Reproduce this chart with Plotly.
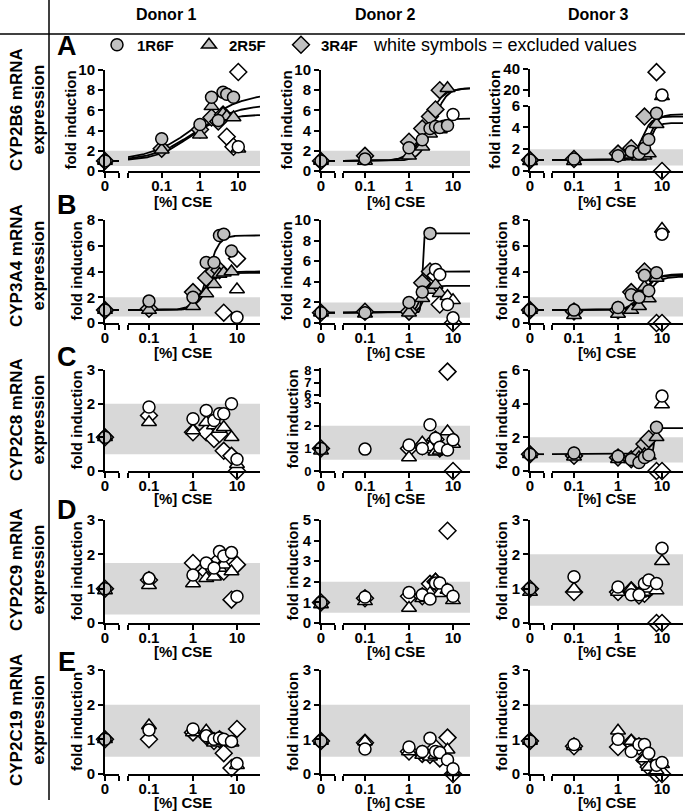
import numpy as np
import plotly.graph_objects as go

# ---------------- data ----------------
DOSES = [0, 0.1, 1, 2, 3, 4, 5, 7.5, 10]
STRAINS = ["1R6F", "2R5F", "3R4F"]
DONORS = ["Donor 1", "Donor 2", "Donor 3"]
GENES = ["CYP2B6", "CYP3A4", "CYP2C8", "CYP2C9", "CYP2C19"]
LETTERS = ["A", "B", "C", "D", "E"]
X_TICKS = [0.1, 1, 10]
X_TICK_TEXT = ["0.1", "1", "10"]
N = None

# Row A: CYP2B6
A1_1R6F = [1.0, 3.2, 4.6, 7.3, 5.0, 7.8, 7.6, 7.3, N]
A1_2R5F = [1.0, 2.1, 3.6, 6.4, N, 5.7, 5.4, 5.3, N]
A1_3R4F = [1.0, 2.2, 4.1, 5.3, 4.9, 5.6, N, N, N]
A1_1R6F_EX = [N, N, N, N, N, N, N, N, 2.4]
A1_2R5F_EX = [N, N, N, N, N, N, N, N, 2.2]
A1_3R4F_EX = [N, N, N, N, N, N, 3.4, 2.4, 9.8]

A2_1R6F = [1.0, 1.2, 2.3, 3.1, 4.2, 4.4, 4.3, 4.5, N]
A2_2R5F = [1.0, 1.0, 1.5, 2.4, 3.7, 4.3, 4.1, 8.2, N]
A2_3R4F = [1.0, 1.5, 2.9, 4.2, 5.4, 6.1, 8.0, N, N]
A2_1R6F_EX = [N, N, N, N, N, N, N, N, 5.6]
A2_2R5F_EX = [N] * 9
A2_3R4F_EX = [N] * 9

A3_1R6F = [1.0, 1.1, 1.4, 1.8, 1.6, 2.1, 2.9, 5.3, N]
A3_2R5F = [0.9, 0.9, 1.3, 1.5, 1.3, 1.4, 1.6, 4.3, N]
A3_3R4F = [1.0, 1.1, 1.6, 2.1, N, 5.0, N, N, N]
A3_1R6F_EX = [N, N, N, N, N, N, N, N, 15.0]
A3_2R5F_EX = [N, N, N, N, N, N, N, N, 13.8]
A3_3R4F_EX = [N, N, N, N, N, N, N, 37.0, 0.0]

# Row B: CYP3A4
B1_1R6F = [1.0, 1.7, 2.0, 4.7, 4.7, 6.8, 6.9, 5.6, N]
B1_2R5F = [1.0, 1.0, 1.3, 2.3, 3.0, 3.8, 3.9, 4.0, N]
B1_3R4F = [1.0, 1.1, 2.4, 3.5, 4.0, 4.1, N, N, N]
B1_1R6F_EX = [N, N, N, N, N, N, N, N, 0.45]
B1_2R5F_EX = [N, N, N, N, N, N, N, N, 2.6]
B1_3R4F_EX = [N, N, N, N, N, N, 0.8, N, 5.0]

B2_1R6F = [1.0, 1.0, 2.0, 3.0, 8.7, N, N, N, N]
B2_2R5F = [1.0, 0.9, 1.0, 2.4, 3.2, 3.7, 2.9, N, N]
B2_3R4F = [1.0, 1.1, 1.1, 3.9, 5.0, N, N, N, N]
B2_1R6F_EX = [N, N, N, N, N, 5.2, 4.7, 1.8, 0.5]
B2_2R5F_EX = [N, N, N, N, N, N, N, 2.6, 2.2]
B2_3R4F_EX = [N, N, N, N, N, 4.6, 1.8, N, 0.0]

B3_1R6F = [1.0, 1.0, 1.2, 2.2, 2.0, 3.7, 2.5, 3.9, N]
B3_2R5F = [1.0, 0.6, 0.7, 1.0, 1.3, 2.8, 1.9, 3.5, N]
B3_3R4F = [1.0, 0.9, 1.0, 2.4, 2.0, 4.0, N, N, N]
B3_1R6F_EX = [N, N, N, N, N, N, N, N, 6.9]
B3_2R5F_EX = [N, N, N, N, N, N, N, N, 7.3]
B3_3R4F_EX = [N, N, N, N, N, N, N, 0.0, 0.0]

# Row C: CYP2C8
C1_1R6F = [1.0, 1.9, 1.55, 1.8, 1.5, 1.7, 1.7, 2.0, N]
C1_2R5F = [1.0, 1.45, 1.2, 1.45, 1.35, 1.25, 1.3, 1.0, N]
C1_3R4F = [1.0, 1.65, 1.15, 1.15, 0.95, 1.1, 0.6, 0.45, N]
C1_1R6F_EX = [N, N, N, N, N, N, N, N, 0.35]
C1_2R5F_EX = [N, N, N, N, N, N, N, N, 0.2]
C1_3R4F_EX = [N, N, N, N, N, N, N, N, 0.0]

C2_1R6F = [1.0, 0.97, 1.15, 1.0, 2.05, 1.45, 1.05, 0.93, N]
C2_2R5F = [0.9, N, 0.6, 1.25, 1.05, 0.85, 0.9, 1.75, N]
C2_3R4F = [1.0, N, 1.0, 1.1, 1.1, 1.4, 1.0, N, N]
C2_1R6F_EX = [N, N, N, N, N, N, N, N, 1.38]
C2_2R5F_EX = [N, N, N, N, N, N, N, N, 1.2]
C2_3R4F_EX = [N, N, N, N, N, N, N, 7.9, 0.0]

C3_1R6F = [1.0, 1.07, 0.88, 0.68, 0.5, 0.8, 0.95, 2.6, N]
C3_2R5F = [1.0, 0.85, 0.7, 0.7, 0.8, 1.0, 0.9, 2.0, N]
C3_3R4F = [1.0, 0.9, 0.8, 0.7, 1.0, 1.6, 1.9, N, N]
C3_1R6F_EX = [N, N, N, N, N, N, N, N, 4.45]
C3_2R5F_EX = [N, N, N, N, N, N, N, N, 3.95]
C3_3R4F_EX = [N, N, N, N, N, N, N, 0.0, 0.0]

# Row D: CYP2C9
D1_1R6F = [1.0, 1.3, 1.4, 1.75, 1.6, 2.08, 1.95, 2.05, N]
D1_2R5F = [0.95, 1.1, 1.15, 1.3, 1.35, 1.6, 1.7, 1.5, N]
D1_3R4F = [1.0, 1.25, 1.75, 1.5, 1.55, 1.85, 1.5, N, N]
D1_1R6F_EX = [N, N, N, N, N, N, N, N, 0.77]
D1_2R5F_EX = [N] * 9
D1_3R4F_EX = [N, N, N, N, N, N, N, 0.68, 1.7]

D2_1R6F = [1.0, 1.26, 1.48, 1.37, 1.16, 1.94, 1.94, 1.6, N]
D2_2R5F = [0.9, 1.05, 0.73, 1.2, 1.45, 2.1, 1.45, 1.6, 1.1]
D2_3R4F = [1.0, 1.2, 1.3, 1.3, 1.9, 2.0, 1.8, N, N]
D2_1R6F_EX = [N, N, N, N, N, N, N, N, 1.3]
D2_2R5F_EX = [N] * 9
D2_3R4F_EX = [N, N, N, N, N, N, N, 4.48, N]

D3_1R6F = [1.0, 1.35, 1.05, 0.82, 0.82, 1.15, 1.25, 1.15, N]
D3_2R5F = [0.9, 1.0, 0.9, 1.0, 0.85, 0.9, 1.0, 0.95, N]
D3_3R4F = [1.0, 0.9, 0.9, 0.95, 0.8, 0.85, 1.0, N, N]
D3_1R6F_EX = [N, N, N, N, N, N, N, N, 2.18]
D3_2R5F_EX = [N, N, N, N, N, N, N, N, 1.8]
D3_3R4F_EX = [N, N, N, N, N, N, N, 0.0, 0.0]

# Row E: CYP2C19
E1_1R6F = [1.0, 1.27, 1.3, 1.1, 1.0, 1.04, 1.0, 0.94, N]
E1_2R5F = [1.0, 1.4, 1.2, 1.25, 0.9, 1.0, 0.95, 0.9, N]
E1_3R4F = [1.0, 1.0, 1.2, 1.1, 0.95, 1.0, 0.6, N, N]
E1_1R6F_EX = [N, N, N, N, N, N, N, N, 0.3]
E1_2R5F_EX = [N, N, N, N, N, N, N, N, 0.25]
E1_3R4F_EX = [N, N, N, N, N, N, N, 0.17, 1.3]

E2_1R6F = [0.95, 0.72, 0.78, 0.65, 1.03, 0.65, 0.62, 0.41, N]
E2_2R5F = [0.95, 0.94, 0.65, 0.55, 0.5, 0.55, 0.6, 0.7, N]
E2_3R4F = [0.95, 0.9, 0.65, 0.58, 0.55, 0.75, 0.45, N, N]
E2_1R6F_EX = [N, N, N, N, N, N, N, N, 0.15]
E2_2R5F_EX = [N, N, N, N, N, N, N, N, 0.05]
E2_3R4F_EX = [N, N, N, N, N, N, N, 1.05, 0.0]

E3_1R6F = [0.95, 0.85, 1.0, 0.65, 0.85, 0.85, 0.6, 0.25, N]
E3_2R5F = [0.95, 0.8, 1.25, 0.95, 0.8, 0.45, 0.2, 0.1, N]
E3_3R4F = [0.95, 0.8, 0.78, 0.9, 0.8, 0.4, 0.2, N, N]
E3_1R6F_EX = [N, N, N, N, N, N, N, N, 0.33]
E3_2R5F_EX = [N, N, N, N, N, N, N, N, 0.28]
E3_3R4F_EX = [N, N, N, N, N, N, N, 0.0, 0.0]

# fitted curves: (bottom, top, EC50 [% CSE], Hill slope) per strain
A1_FITS = [(1, 7.8, 0.8, 0.7), (1, 6.6, 0.7, 0.8), (1, 5.6, 0.5, 1.0)]
A2_FITS = [(1, 5.2, 1.8, 2.5), (1, 8.2, 3.5, 3.0), (1, 8.2, 2.5, 2.5)]
A3_FITS = [(1, 5.2, 5.0, 4.0), (1, 4.4, 5.0, 5.0), (1, 5.0, 3.5, 4.0)]
B1_FITS = [(1, 6.8, 2.2, 3.5), (1, 4.0, 2.0, 3.0), (1, 3.9, 1.6, 3.0)]
B2_FITS = [(1, 8.7, 2.0, 25.0), (1, 3.6, 2.2, 6.0), (1, 5.0, 2.0, 6.0)]
B3_FITS = [(1, 3.8, 4.0, 3.0), (1, 3.6, 4.5, 3.0), (1, 3.7, 3.5, 3.0)]
C3_FITS = [(1, 2.55, 6.6, 30.0)]

# "normal range" band
BAND_STD = [0.5, 2.0]
D1_BAND = [0.25, 1.75]

# y axes: lower segment (range, ticks) and optional upper segment
Y_10 = dict(lo=[0, 10], lo_ticks=[0, 2, 4, 6, 8, 10])
Y_8 = dict(lo=[0, 8], lo_ticks=[0, 2, 4, 6, 8])
Y_6 = dict(lo=[0, 6], lo_ticks=[0, 2, 4, 6])
Y_5 = dict(lo=[0, 5], lo_ticks=[0, 1, 2, 3, 4, 5])
Y_3 = dict(lo=[0, 3], lo_ticks=[0, 1, 2, 3])
A3_Y = dict(lo=[0, 6], lo_ticks=[0, 2, 4, 6], up=[13.2, 40], up_ticks=[20, 40])
C2_Y = dict(lo=[0, 3], lo_ticks=[0, 1, 2, 3], up=[5.8, 8.2], up_ticks=[6, 7, 8], tick_size=13)

# ---------------- layout geometry (px) ----------------
W, H = 685, 811
FONT = "Liberation Sans, Arial, sans-serif"
GRAY = "#c0c0c0"
BAND_COLOR = "#d8d8d8"
COLS = [(105, 119, 128, 260), (321, 335, 343, 470), (530, 544, 552, 683)]
ROWS = [(70, 171), (220, 323), (370, 471), (520, 623), (670, 774)]
TITLE_OFFSET = [30, 29, 28, 28, 28]
LOG_RANGE = [(-1.477, 1.523), (-1.5, 1.386), (-1.5, 1.477)]
A1_LOG_RANGE = (-1.88, 1.567)
SPLIT = {(0, 2): (105.7, 69.0, 97.0), (2, 1): (403.3, 368.0, 397.0)}  # lower top, upper top, upper bottom

def px(x):
    return x / W

def py(y):
    return 1 - y / H

# panels without a fit show their non-baseline points as open symbols
PANELS = [
    [dict(v=[A1_1R6F, A1_2R5F, A1_3R4F], ex=[A1_1R6F_EX, A1_2R5F_EX, A1_3R4F_EX], fits=A1_FITS, y=Y_10, band=BAND_STD),
     dict(v=[A2_1R6F, A2_2R5F, A2_3R4F], ex=[A2_1R6F_EX, A2_2R5F_EX, A2_3R4F_EX], fits=A2_FITS, y=Y_10, band=BAND_STD),
     dict(v=[A3_1R6F, A3_2R5F, A3_3R4F], ex=[A3_1R6F_EX, A3_2R5F_EX, A3_3R4F_EX], fits=A3_FITS, y=A3_Y, band=BAND_STD)],
    [dict(v=[B1_1R6F, B1_2R5F, B1_3R4F], ex=[B1_1R6F_EX, B1_2R5F_EX, B1_3R4F_EX], fits=B1_FITS, y=Y_8, band=BAND_STD),
     dict(v=[B2_1R6F, B2_2R5F, B2_3R4F], ex=[B2_1R6F_EX, B2_2R5F_EX, B2_3R4F_EX], fits=B2_FITS, y=Y_10, band=BAND_STD),
     dict(v=[B3_1R6F, B3_2R5F, B3_3R4F], ex=[B3_1R6F_EX, B3_2R5F_EX, B3_3R4F_EX], fits=B3_FITS, y=Y_8, band=BAND_STD)],
    [dict(v=[C1_1R6F, C1_2R5F, C1_3R4F], ex=[C1_1R6F_EX, C1_2R5F_EX, C1_3R4F_EX], fits=[], y=Y_3, band=BAND_STD),
     dict(v=[C2_1R6F, C2_2R5F, C2_3R4F], ex=[C2_1R6F_EX, C2_2R5F_EX, C2_3R4F_EX], fits=[], y=C2_Y, band=BAND_STD),
     dict(v=[C3_1R6F, C3_2R5F, C3_3R4F], ex=[C3_1R6F_EX, C3_2R5F_EX, C3_3R4F_EX], fits=C3_FITS, y=Y_6, band=BAND_STD)],
    [dict(v=[D1_1R6F, D1_2R5F, D1_3R4F], ex=[D1_1R6F_EX, D1_2R5F_EX, D1_3R4F_EX], fits=[], y=Y_3, band=D1_BAND),
     dict(v=[D2_1R6F, D2_2R5F, D2_3R4F], ex=[D2_1R6F_EX, D2_2R5F_EX, D2_3R4F_EX], fits=[], y=Y_5, band=BAND_STD),
     dict(v=[D3_1R6F, D3_2R5F, D3_3R4F], ex=[D3_1R6F_EX, D3_2R5F_EX, D3_3R4F_EX], fits=[], y=Y_3, band=BAND_STD)],
    [dict(v=[E1_1R6F, E1_2R5F, E1_3R4F], ex=[E1_1R6F_EX, E1_2R5F_EX, E1_3R4F_EX], fits=[], y=Y_3, band=BAND_STD),
     dict(v=[E2_1R6F, E2_2R5F, E2_3R4F], ex=[E2_1R6F_EX, E2_2R5F_EX, E2_3R4F_EX], fits=[], y=Y_3, band=BAND_STD),
     dict(v=[E3_1R6F, E3_2R5F, E3_3R4F], ex=[E3_1R6F_EX, E3_2R5F_EX, E3_3R4F_EX], fits=[], y=Y_3, band=BAND_STD)],
]

SYMBOL = {"1R6F": "circle", "2R5F": "triangle-up", "3R4F": "diamond"}
MSIZE = {"1R6F": 12, "2R5F": 13, "3R4F": 13}
DRAW_ORDER = [2, 1, 0]  # diamonds, triangles, then circles on top

def axis_common(tick_size=15):
    return dict(showline=True, linewidth=2, linecolor="black", ticks="outside",
                ticklen=5, tickwidth=2, tickcolor="black", showgrid=False,
                zeroline=False, fixedrange=True, automargin=False,
                tickfont=dict(family=FONT, size=tick_size, color="black", weight="bold"))

def nm(prefix, i):
    return prefix if i == 1 else f"{prefix}{i}"

def text_ann(text, x, y, size, bold=True, angle=0, xanchor="center"):
    f = dict(family=FONT, size=size, color="black")
    if bold:
        f["weight"] = "bold"
    return dict(text=text, x=px(x), y=py(y), xref="paper", yref="paper", showarrow=False,
                xanchor=xanchor, yanchor="middle", textangle=angle, font=f)

fig = go.Figure()
layout = {}
shapes = []
annotations = []
nx = 0
ny = 0
legend_done = set()

for r in range(5):
    top, bot = ROWS[r]
    for c in range(3):
        P = PANELS[r][c]
        yx, zend, lstart, lend = COLS[c]
        lrange = A1_LOG_RANGE if (r, c) == (0, 0) else LOG_RANGE[c]
        split = SPLIT.get((r, c))
        ytick_size = P["y"].get("tick_size", 15)
        xz = nx + 1
        xl = nx + 2
        nx += 2
        ylo = ny + 1
        ny += 1
        yup = None
        if split:
            yup = ny + 1
            ny += 1
        lo_top = split[0] if split else top
        ya = axis_common(ytick_size)
        ya.update(domain=[py(bot), py(lo_top)], range=P["y"]["lo"], tickvals=P["y"]["lo_ticks"],
                  anchor=nm("x", xz))
        layout[nm("yaxis", ylo)] = ya
        if yup:
            yu = axis_common(ytick_size)
            yu.update(domain=[py(split[2]), py(split[1])], range=P["y"]["up"],
                      tickvals=P["y"]["up_ticks"], anchor=nm("x", xz))
            layout[nm("yaxis", yup)] = yu
        xa = axis_common()
        xa.update(domain=[px(yx), px(zend)], range=[0, 1], tickvals=[0, 1], ticktext=["0", ""],
                  anchor=nm("y", ylo), ticklabelstandoff=-5)
        layout[nm("xaxis", xz)] = xa
        xb = axis_common()
        xb.update(type="log", domain=[px(lstart), px(lend)], range=list(lrange),
                  tickvals=[10 ** lrange[0]] + X_TICKS, ticktext=[""] + X_TICK_TEXT,
                  anchor=nm("y", ylo), ticklabelstandoff=-5)
        layout[nm("xaxis", xl)] = xb

        shapes.append(dict(type="rect", xref="paper", yref=nm("y", ylo), x0=px(yx), x1=px(lend),
                           y0=P["band"][0], y1=P["band"][1], fillcolor=BAND_COLOR,
                           line=dict(width=0), layer="below"))

        for fit in P["fits"]:
            b, t, ec, h = fit
            xs = np.logspace(lrange[0], lrange[1], 400)
            ys = b + (t - b) / (1 + (ec / xs) ** h)
            fig.add_trace(go.Scatter(x=xs, y=ys, mode="lines", line=dict(color="black", width=1.8),
                                     xaxis=nm("x", xl), yaxis=nm("y", ylo), showlegend=False,
                                     hoverinfo="skip"))
            fig.add_trace(go.Scatter(x=[0, 1], y=[b, b], mode="lines", line=dict(color="black", width=1.8),
                                     xaxis=nm("x", xz), yaxis=nm("y", ylo), showlegend=False,
                                     hoverinfo="skip"))

        open_panel = len(P["fits"]) == 0
        lo_max = P["y"]["lo"][1]
        for si in DRAW_ORDER:
            s = STRAINS[si]
            for kind, vals in (("in", P["v"][si]), ("ex", P["ex"][si])):
                groups = {}
                for d, v in zip(DOSES, vals):
                    if v is None:
                        continue
                    seg = "z" if d == 0 else "l"
                    part = "up" if (yup and v > lo_max) else "lo"
                    filled = kind == "in" and (seg == "z" or not open_panel)
                    key = (seg, part, filled)
                    groups.setdefault(key, ([], []))
                    groups[key][0].append(d)
                    groups[key][1].append(v)
                for (seg, part, filled), (xs, ys) in groups.items():
                    show = False
                    if filled and seg == "l" and s not in legend_done:
                        show = True
                        legend_done.add(s)
                    fig.add_trace(go.Scatter(
                        x=xs, y=ys, mode="markers", name=s, showlegend=show,
                        legendrank=si + 1,
                        marker=dict(symbol=SYMBOL[s], size=MSIZE[s],
                                    color=GRAY if filled else "white",
                                    line=dict(color="black", width=1.5)),
                        xaxis=nm("x", xz if seg == "z" else xl),
                        yaxis=nm("y", ylo if part == "lo" else yup),
                        cliponaxis=False))

        two_digit = max(P["y"]["lo_ticks"] + P["y"].get("up_ticks", [])) >= 10
        tx = yx - (35 if two_digit else 29)
        ytop = split[1] if split else top
        annotations.append(text_ann("fold induction", tx, (ytop + bot) / 2, 15, angle=-90))
        annotations.append(text_ann("[%] CSE", (yx + lend) / 2, bot + TITLE_OFFSET[r], 15))

DONOR_X = [166, 385, 598]
for i, dname in enumerate(DONORS):
    annotations.append(text_ann(dname, DONOR_X[i], 15, 16))
LETTER_Y = [46, 205, 357, 510, 662]
ROW_LABEL_Y = [110, 266, 420, 570, 720]
for r in range(5):
    annotations.append(text_ann(LETTERS[r], 67, LETTER_Y[r], 27))
    annotations.append(text_ann(f"{GENES[r]} mRNA<br>expression", 27, ROW_LABEL_Y[r], 17, angle=-90))
annotations.append(text_ann("white symbols = excluded values", 371, 45, 18, bold=False, xanchor="left"))

shapes.append(dict(type="line", xref="paper", yref="paper", x0=0, x1=1, y0=py(34), y1=py(34),
                   line=dict(color="black", width=1.5)))
shapes.append(dict(type="line", xref="paper", yref="paper", x0=px(49), x1=px(49), y0=py(0), y1=py(800),
                   line=dict(color="black", width=1.5)))

layout.update(
    width=W, height=H, margin=dict(l=0, r=0, t=0, b=0, pad=0, autoexpand=False),
    paper_bgcolor="white", plot_bgcolor="rgba(0,0,0,0)",
    shapes=shapes, annotations=annotations,
    showlegend=True,
    legend=dict(orientation="h", x=px(97), y=py(45), xanchor="left", yanchor="middle",
                entrywidth=47, bgcolor="rgba(0,0,0,0)",
                font=dict(family=FONT, size=15, color="black", weight="bold")),
)
fig.update_layout(**layout)
fig.write_html("out.html",
               post_script="document.body.style.margin='0';document.body.style.overflow='hidden';")
